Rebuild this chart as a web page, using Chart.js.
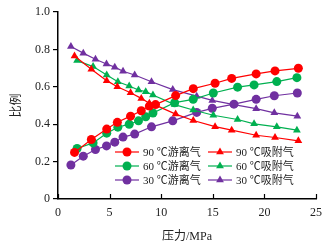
<!DOCTYPE html>
<html>
<head>
<meta charset="utf-8">
<script src="https://cdn.jsdelivr.net/npm/chart.js@4.4.1/dist/chart.umd.min.js"></script>
<style>
  html, body { margin: 0; padding: 0; background: #fff; }
  #wrap { width: 335px; height: 249px; }
</style>
</head>
<body>
<div id="wrap"><canvas id="ratioChart" width="335" height="249"></canvas></div>
<script>
/* ---------- DATA ---------- */
const xTicks = [0, 5, 10, 15, 20, 25];
const yTicks = [0, 0.2, 0.4, 0.6, 0.8, 1.0];

const pressure90 = [1.6, 3.23, 4.72, 5.75, 7.03, 8.07, 8.85, 9.45, 11.4, 13.11, 15.22, 16.83, 19.2, 21.03, 23.29];
const free90 = [0.249, 0.318, 0.374, 0.41, 0.443, 0.472, 0.497, 0.505, 0.553, 0.59, 0.619, 0.645, 0.669, 0.685, 0.699];
const ads90 = [0.765, 0.694, 0.633, 0.60, 0.568, 0.538, 0.512, 0.502, 0.454, 0.42, 0.387, 0.368, 0.341, 0.329, 0.311];

const pressure60 = [1.85, 3.4, 4.72, 5.8, 6.9, 7.8, 8.5, 9.2, 11.3, 13.1, 15.05, 17.4, 19.0, 21.2, 23.15];
const free60 = [0.27, 0.30, 0.352, 0.384, 0.40, 0.418, 0.44, 0.46, 0.515, 0.533, 0.567, 0.598, 0.61, 0.628, 0.649];
const ads60 = [0.74, 0.708, 0.663, 0.627, 0.604, 0.583, 0.574, 0.556, 0.505, 0.476, 0.448, 0.425, 0.402, 0.386, 0.368];

const pressure30 = [1.25, 2.45, 3.63, 4.7, 5.5, 6.3, 7.43, 9.06, 11.12, 13.44, 14.95, 17.05, 19.2, 20.96, 23.19];
const free30 = [0.182, 0.229, 0.265, 0.284, 0.304, 0.331, 0.347, 0.386, 0.418, 0.463, 0.485, 0.507, 0.533, 0.552, 0.567];
const ads30 = [0.816, 0.78, 0.747, 0.722, 0.705, 0.683, 0.663, 0.627, 0.585, 0.55, 0.527, 0.505, 0.483, 0.461, 0.443];

const labels = ["90 ℃游离气", "90 ℃吸附气", "60 ℃游离气", "60 ℃吸附气", "30 ℃游离气", "30 ℃吸附气"];

/* ---------- HELPERS ---------- */
function pts(xs, ys) {
  return xs.map(function (x, i) { return { x: x, y: ys[i] }; });
}

const RED = "#ff0000";
const GREEN = "#00b050";
const PURPLE = "#7030a0";
const NUM_FONT = "'Liberation Serif', 'Noto Sans CJK SC', serif";

function series(label, data, color, style) {
  return {
    label: label,
    data: data,
    borderColor: color,
    backgroundColor: color,
    borderWidth: 1.2,
    pointStyle: style,
    pointRadius: 4.5,
    pointBorderWidth: 0,
    pointHoverRadius: 4.5,
    tension: 0
  };
}

/* ---------- PLUGINS ---------- */
// x ticks point into the plot
const innerTicks = {
  id: "innerTicks",
  afterDraw(chart) {
    const ctx = chart.ctx;
    const xs = chart.scales.x;
    const bottom = chart.chartArea.bottom;
    ctx.save();
    ctx.strokeStyle = "#000";
    ctx.lineWidth = 1.2;
    xTicks.forEach(function (v) {
      const px = Math.round(xs.getPixelForValue(v)) + 0.5;
      ctx.beginPath();
      ctx.moveTo(px, bottom);
      ctx.lineTo(px, bottom - 5);
      ctx.stroke();
    });
    ctx.restore();
  }
};

// legend drawn inside the plot, two columns
const insideLegend = {
  id: "insideLegend",
  afterDraw(chart) {
    const ctx = chart.ctx;
    const colX = [115, 208];
    const rowY = [152, 166, 180];
    ctx.save();
    ctx.font = "11px " + NUM_FONT;
    ctx.textBaseline = "middle";
    chart.data.datasets.forEach(function (ds, i) {
      const x0 = colX[i % 2];
      const y0 = rowY[Math.floor(i / 2)];
      ctx.strokeStyle = ds.borderColor;
      ctx.fillStyle = ds.borderColor;
      ctx.lineWidth = 1.2;
      ctx.beginPath();
      ctx.moveTo(x0, y0);
      ctx.lineTo(x0 + 24, y0);
      ctx.stroke();
      Chart.helpers.drawPoint(ctx, { pointStyle: ds.pointStyle, radius: 4.5, borderWidth: 0 }, x0 + 12, y0);
      ctx.fillStyle = "#222";
      ctx.fillText(ds.label, x0 + 28, y0 + 1);
    });
    ctx.restore();
  }
};

/* ---------- CHART ---------- */
document.addEventListener("DOMContentLoaded", function () {
  const ctx = document.getElementById("ratioChart").getContext("2d");

  new Chart(ctx, {
    type: "line",
    data: {
      datasets: [
        series(labels[0], pts(pressure90, free90), RED, "circle"),
        series(labels[1], pts(pressure90, ads90), RED, "triangle"),
        series(labels[2], pts(pressure60, free60), GREEN, "circle"),
        series(labels[3], pts(pressure60, ads60), GREEN, "triangle"),
        series(labels[4], pts(pressure30, free30), PURPLE, "circle"),
        series(labels[5], pts(pressure30, ads30), PURPLE, "triangle")
      ]
    },
    options: {
      responsive: false,
      animation: false,
      layout: { padding: { top: 12, right: 19, left: 0, bottom: 0 } },
      plugins: {
        legend: { display: false },
        tooltip: { enabled: false }
      },
      scales: {
        x: {
          type: "linear",
          min: 0,
          max: 25,
          afterBuildTicks(scale) { scale.ticks = xTicks.map(function (v) { return { value: v }; }); },
          afterFit(scale) { scale.height = 50; },
          grid: { display: true, drawOnChartArea: false, drawTicks: false },
          border: { display: true, color: "#000", width: 1.5 },
          ticks: {
            padding: 7,
            color: "#222",
            maxRotation: 0,
            font: { family: NUM_FONT, size: 12 }
          },
          title: {
            display: true,
            text: "压力/MPa",
            color: "#222",
            font: { family: NUM_FONT, size: 12 },
            padding: { top: 0, bottom: 5 }
          }
        },
        y: {
          min: 0,
          max: 1,
          afterBuildTicks(scale) { scale.ticks = yTicks.map(function (v) { return { value: v }; }); },
          afterFit(scale) { scale.width = 58; },
          grid: { display: true, drawOnChartArea: false, drawTicks: true, tickLength: 5, color: "#000", lineWidth: 1.2 },
          border: { display: true, color: "#000", width: 1.5 },
          ticks: {
            padding: 3,
            color: "#222",
            font: { family: NUM_FONT, size: 12 },
            callback: function (v) { return v === 0 ? "0" : v.toFixed(1); }
          },
          title: {
            display: true,
            text: "比例",
            color: "#222",
            font: { family: NUM_FONT, size: 12 },
            padding: { top: 10, bottom: 0 }
          }
        }
      }
    },
    plugins: [innerTicks, insideLegend]
  });
});
</script>
</body>
</html>
